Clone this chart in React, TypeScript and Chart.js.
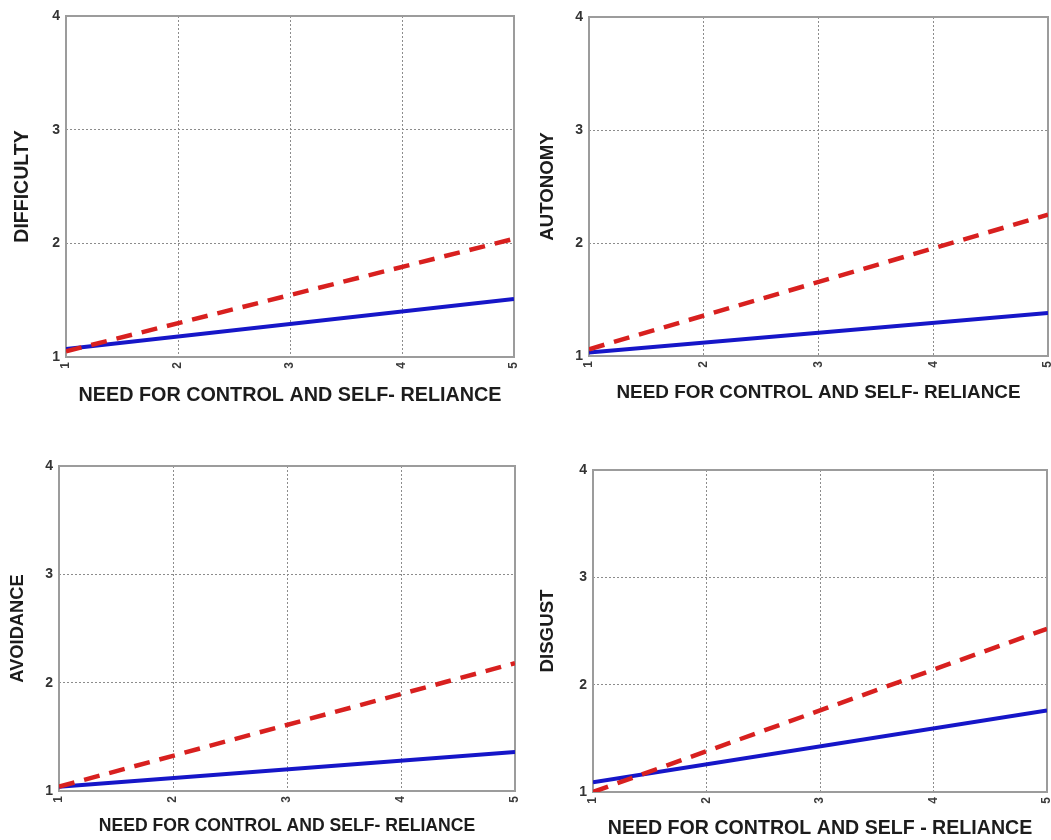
import React, { useEffect, useRef } from 'react';
import { Chart, registerables } from 'chart.js';

Chart.register(...registerables);

// ---------- data ----------
const xValues = [1, 5];
const xTickValues = [1, 2, 3, 4, 5];
const yTickValues = [1, 2, 3, 4];
const xAxisTitle = 'NEED FOR CONTROL AND SELF- RELIANCE';
const xAxisTitleLast = 'NEED FOR CONTROL AND SELF - RELIANCE';
const panelTitles = ['DIFFICULTY', 'AUTONOMY', 'AVOIDANCE', 'DISGUST'];

const difficultyDashed = [1.05, 2.04];
const difficultySolid = [1.07, 1.51];
const autonomyDashed = [1.06, 2.25];
const autonomySolid = [1.03, 1.38];
const avoidanceDashed = [1.04, 2.18];
const avoidanceSolid = [1.04, 1.36];
const disgustDashed = [1.0, 2.52];
const disgustSolid = [1.09, 1.76];

// ---------- layout / style ----------
const FONT = '"Liberation Sans", Arial, Helvetica, sans-serif';
const RED = '#d8201f';
const BLUE = '#1616c8';

type Layout = {
  canvas: [number, number, number, number]; // left, top, width, height (page px)
  area: [number, number, number, number]; // left, top, right, bottom (page px)
  yTitleSize: number;
  yTitleCenter: number;
  xTitleSize: number;
  xTitleCenter: number;
};

const layouts: Layout[] = [
  { canvas: [0, 0, 545, 420], area: [66, 16, 514, 357], yTitleSize: 19.5, yTitleCenter: 23, xTitleSize: 19.8, xTitleCenter: 395.5 },
  { canvas: [530, 0, 545, 420], area: [589, 17, 1048, 356], yTitleSize: 18.7, yTitleCenter: 548, xTitleSize: 18.9, xTitleCenter: 393 },
  { canvas: [0, 420, 545, 420], area: [59, 466, 515, 791], yTitleSize: 18.3, yTitleCenter: 18, xTitleSize: 17.6, xTitleCenter: 826 },
  { canvas: [530, 420, 545, 420], area: [593, 470, 1047, 792], yTitleSize: 18.7, yTitleCenter: 548, xTitleSize: 19.6, xTitleCenter: 829 },
];

const panelData = [
  { dashed: difficultyDashed, solid: difficultySolid, xTitle: xAxisTitle },
  { dashed: autonomyDashed, solid: autonomySolid, xTitle: xAxisTitle },
  { dashed: avoidanceDashed, solid: avoidanceSolid, xTitle: xAxisTitle },
  { dashed: disgustDashed, solid: disgustSolid, xTitle: xAxisTitleLast },
];

const framePlugin = {
  id: 'frame',
  beforeDatasetsDraw(chart: any) {
    const { ctx, chartArea: a } = chart;
    ctx.save();
    ctx.strokeStyle = '#9c9c9c';
    ctx.lineWidth = 2;
    ctx.strokeRect(a.left, a.top, a.right - a.left, a.bottom - a.top);
    ctx.restore();
  },
};

function Panel({ index }: { index: number }) {
  const ref = useRef<HTMLCanvasElement | null>(null);
  const lay = layouts[index];
  const d = panelData[index];
  const [cl, ct, cw, ch] = lay.canvas;
  const [al, at, ar, ab] = lay.area;

  useEffect(() => {
    if (!ref.current) return;
    const toPts = (ys: number[]) => xValues.map((x, i) => ({ x, y: ys[i] }));
    const gridColor = (c: any) => {
      const n = c.scale && c.scale.ticks ? c.scale.ticks.length : 0;
      return c.index === 0 || c.index === n - 1 ? 'rgba(0,0,0,0)' : '#8c8c8c';
    };
    const chart = new Chart(ref.current, {
      type: 'line',
      data: {
        datasets: [
          {
            data: toPts(d.dashed),
            borderColor: RED,
            borderWidth: 4.5,
            borderDash: [16, 10],
            pointRadius: 0,
            tension: 0,
          },
          {
            data: toPts(d.solid),
            borderColor: BLUE,
            borderWidth: 4,
            pointRadius: 0,
            tension: 0,
          },
        ],
      },
      options: {
        responsive: false,
        animation: false,
        events: [],
        layout: {
          padding: { top: at - ct, right: cl + cw - ar, left: 0, bottom: 0 },
        },
        plugins: { legend: { display: false }, tooltip: { enabled: false } },
        scales: {
          x: {
            type: 'linear',
            min: 1,
            max: 5,
            afterBuildTicks: (s: any) => {
              s.ticks = xTickValues.map((v) => ({ value: v }));
            },
            afterFit: (s: any) => {
              s.height = ct + ch - ab;
            },
            ticks: {
              autoSkip: false,
              minRotation: 90,
              maxRotation: 90,
              padding: 5,
              color: '#3a3a3a',
              font: { family: FONT, size: 12, weight: 'bold' },
              callback: (v: any) => String(v),
            },
            grid: { color: gridColor, lineWidth: 1, drawTicks: false },
            border: { display: false, dash: [2, 2] },
            title: {
              display: true,
              text: d.xTitle,
              color: '#1c1c1c',
              font: { family: FONT, size: lay.xTitleSize, weight: 'bold', lineHeight: 1 },
              padding: { top: 0, bottom: ct + ch - lay.xTitleCenter - lay.xTitleSize / 2 },
            },
          },
          y: {
            type: 'linear',
            min: 1,
            max: 4,
            afterBuildTicks: (s: any) => {
              s.ticks = yTickValues.map((v) => ({ value: v }));
            },
            afterFit: (s: any) => {
              s.width = al - cl;
            },
            ticks: {
              padding: 6,
              color: '#333333',
              font: { family: FONT, size: 14, weight: 'bold' },
              callback: (v: any) => String(v),
            },
            grid: { color: gridColor, lineWidth: 1, drawTicks: false },
            border: { display: false, dash: [2, 2] },
            title: {
              display: true,
              text: panelTitles[index],
              color: '#1c1c1c',
              font: { family: FONT, size: lay.yTitleSize, weight: 'bold', lineHeight: 1 },
              padding: { top: lay.yTitleCenter - cl - lay.yTitleSize / 2, bottom: 0 },
            },
          },
        },
      },
      plugins: [framePlugin],
    } as any);
    return () => chart.destroy();
  }, [index]);

  return (
    <canvas
      ref={ref}
      width={cw}
      height={ch}
      style={{ position: 'absolute', left: cl, top: ct, width: cw, height: ch, display: 'block' }}
    />
  );
}

export default function App() {
  return (
    <div
      style={{
        position: 'fixed',
        left: 0,
        top: 0,
        width: 1051,
        height: 840,
        overflow: 'hidden',
        background: '#ffffff',
      }}
    >
      {panelTitles.map((_, i) => (
        <Panel key={i} index={i} />
      ))}
    </div>
  );
}
